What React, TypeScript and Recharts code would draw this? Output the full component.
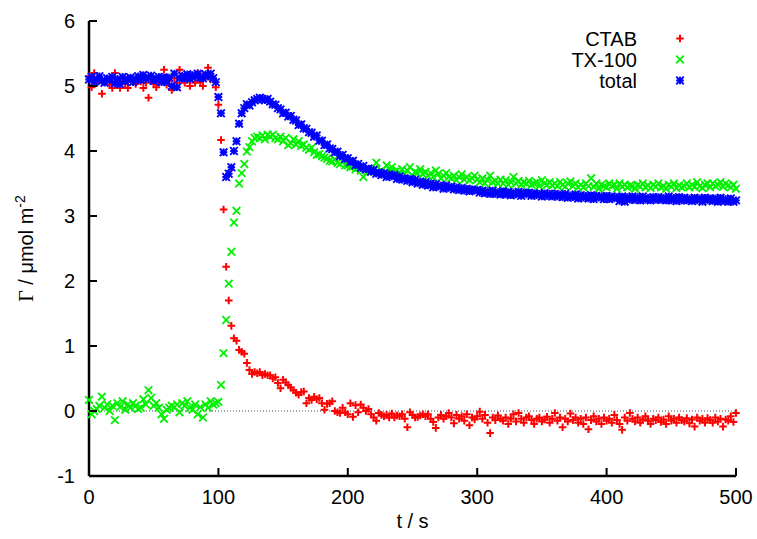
import React from 'react';
import { ScatterChart, Scatter, XAxis, YAxis, ReferenceLine, Legend } from 'recharts';

const FONT = '"Liberation Sans", Arial, sans-serif';

// sampling times (s)
const times = [
  0, 2, 4, 6, 8, 10, 12, 14, 16, 18,
  20, 22, 24, 26, 28, 30, 32, 34, 36, 38,
  40, 42, 44, 46, 48, 50, 52, 54, 56, 58,
  60, 62, 64, 66, 68, 70, 72, 74, 76, 78,
  80, 82, 84, 86, 88, 90, 92, 94, 96, 98,
  100, 102, 104, 106, 108, 110, 112, 114, 116, 118,
  120, 122, 124, 126, 128, 130, 132, 134, 136, 138,
  140, 142, 144, 146, 148, 150, 152, 154, 156, 158,
  160, 162, 164, 166, 168, 170, 172, 174, 176, 178,
  180, 182, 184, 186, 188, 190, 192, 194, 196, 198,
  200, 202, 204, 206, 208, 210, 212, 214, 216, 218,
  220, 222, 224, 226, 228, 230, 232, 234, 236, 238,
  240, 242, 244, 246, 248, 250, 252, 254, 256, 258,
  260, 262, 264, 266, 268, 270, 272, 274, 276, 278,
  280, 282, 284, 286, 288, 290, 292, 294, 296, 298,
  300, 302, 304, 306, 308, 310, 312, 314, 316, 318,
  320, 322, 324, 326, 328, 330, 332, 334, 336, 338,
  340, 342, 344, 346, 348, 350, 352, 354, 356, 358,
  360, 362, 364, 366, 368, 370, 372, 374, 376, 378,
  380, 382, 384, 386, 388, 390, 392, 394, 396, 398,
  400, 402, 404, 406, 408, 410, 412, 414, 416, 418,
  420, 422, 424, 426, 428, 430, 432, 434, 436, 438,
  440, 442, 444, 446, 448, 450, 452, 454, 456, 458,
  460, 462, 464, 466, 468, 470, 472, 474, 476, 478,
  480, 482, 484, 486, 488, 490, 492, 494, 496, 498, 500,
];

// CTAB surface excess
const ctab = [
  5.15, 4.98, 5.2, 5.05, 5.08, 4.88, 5.06, 5.1, 5.02, 4.97,
  5.2, 5.05, 4.97, 5.08, 5.04, 4.97, 5.1, 5.06, 5.03, 5.09,
  5.07, 4.97, 5.05, 4.82, 5.1, 5.03, 4.98, 5.06, 5.1, 5.25,
  5.02, 5.08, 4.94, 5.12, 5.05, 5.25, 5.1, 5.05, 5.14, 5.0,
  5.12, 5.05, 5.2, 5.06, 5.0, 5.15, 5.28, 5.1, 5.1, 4.98,
  4.71, 4.17, 3.1, 2.22, 1.7, 1.31, 1.12, 1.08, 0.94, 0.91,
  0.88, 0.74, 0.63, 0.57, 0.6, 0.58, 0.6, 0.55, 0.57, 0.55,
  0.55, 0.5, 0.52, 0.43, 0.35, 0.48, 0.44, 0.4, 0.36, 0.32,
  0.28, 0.25, 0.29, 0.3, 0.12, 0.2, 0.17, 0.22, 0.18, 0.2,
  0.12, 0.02, 0.11, 0.12, 0.15, 0.0, -0.02, -0.03, 0.05, -0.02,
  -0.05, 0.12, -0.09, 0.09, -0.02, 0.1, 0.05, 0.0, 0.03, -0.05,
  -0.1, -0.15, -0.03, -0.06, -0.08, -0.06, -0.1, -0.04, -0.1, -0.07,
  -0.08, -0.05, -0.12, -0.25, -0.02, -0.06, -0.1, -0.09, -0.07, -0.05,
  -0.08, -0.05, -0.12, -0.17, -0.26, -0.1, -0.06, -0.12, -0.08, -0.03,
  -0.1, -0.19, -0.06, -0.12, -0.08, -0.15, -0.05, -0.22, -0.1, -0.13,
  -0.08, -0.01, -0.12, -0.06, -0.18, -0.34, -0.1, -0.14, -0.07, -0.12,
  -0.15, -0.1, -0.2, -0.12, -0.05, -0.16, -0.03, -0.12, -0.18, -0.1,
  -0.08, -0.14, -0.2, -0.12, -0.1, -0.16, -0.13, -0.09, -0.18, -0.12,
  -0.03, -0.15, -0.1, -0.25, -0.12, -0.16, -0.04, -0.14, -0.1, -0.18,
  -0.12, -0.2, -0.1, -0.28, -0.14, -0.08, -0.16, -0.12, -0.2, -0.1,
  -0.15, -0.12, -0.18, -0.06, -0.14, -0.2, -0.29, -0.1, -0.15, -0.03,
  -0.12, -0.16, -0.1, -0.18, -0.13, -0.08, -0.15, -0.2, -0.12, -0.14,
  -0.1, -0.17, -0.13, -0.2, -0.08, -0.15, -0.12, -0.18, -0.1, -0.14,
  -0.16, -0.11, -0.19, -0.13, -0.24, -0.1, -0.15, -0.12, -0.18, -0.11,
  -0.14, -0.18, -0.1, -0.16, -0.12, -0.24, -0.13, -0.15, -0.08, -0.17, -0.03,
];

// TX-100 surface excess
const tx100 = [
  0.17, -0.05, 0.0, 0.03, 0.08, 0.22, 0.05, 0.1, 0.0, 0.08,
  -0.14, 0.12, 0.06, 0.15, 0.02, 0.1, 0.05, 0.12, 0.08, 0.03,
  0.05, 0.18, 0.1, 0.32, 0.2, 0.08, 0.12, 0.05, -0.05, -0.12,
  0.02, 0.05, 0.08, 0.06, 0.1, -0.02, 0.12, 0.08, 0.15, 0.05,
  0.02, 0.1, -0.05, 0.06, -0.1, 0.1, 0.05, 0.15, 0.1, 0.12,
  0.14, 0.4, 0.89, 1.4, 1.96, 2.45, 2.9, 3.08, 3.5, 3.66,
  3.8, 3.99, 4.06, 4.15, 4.2, 4.22, 4.2, 4.24, 4.18, 4.25,
  4.22, 4.25, 4.2, 4.18, 4.22, 4.15, 4.2, 4.09, 4.12, 4.18,
  4.1, 4.15, 4.08, 4.1, 4.05, 4.02, 4.05, 3.98, 3.94, 3.95,
  3.92, 3.9, 3.88, 3.85, 3.84, 3.87, 3.82, 3.8, 3.84, 3.78,
  3.78, 3.75, 3.76, 3.72, 3.74, 3.7, 3.6, 3.72, 3.68, 3.7,
  3.72, 3.82, 3.68, 3.7, 3.66, 3.78, 3.72, 3.75, 3.68, 3.7,
  3.66, 3.72, 3.64, 3.7, 3.75, 3.62, 3.68, 3.66, 3.72, 3.64,
  3.68, 3.62, 3.66, 3.6, 3.7, 3.65, 3.58, 3.62, 3.66, 3.6,
  3.58, 3.62, 3.55, 3.6, 3.64, 3.56, 3.6, 3.55, 3.58, 3.62,
  3.56, 3.52, 3.58, 3.5, 3.55, 3.62, 3.52, 3.54, 3.5, 3.56,
  3.5, 3.55, 3.48, 3.52, 3.6, 3.5, 3.54, 3.48, 3.52, 3.5,
  3.54, 3.48, 3.5, 3.52, 3.46, 3.55, 3.5, 3.48, 3.52, 3.47,
  3.5, 3.46, 3.52, 3.48, 3.45, 3.5, 3.53, 3.46, 3.5, 3.44,
  3.48, 3.44, 3.5, 3.46, 3.58, 3.45, 3.5, 3.42, 3.48, 3.46,
  3.44, 3.5, 3.46, 3.48, 3.42, 3.5, 3.45, 3.48, 3.44, 3.47,
  3.46, 3.42, 3.48, 3.45, 3.5, 3.44, 3.47, 3.43, 3.48, 3.45,
  3.5, 3.44, 3.46, 3.42, 3.48, 3.45, 3.5, 3.43, 3.47, 3.44,
  3.46, 3.5, 3.44, 3.48, 3.45, 3.52, 3.46, 3.43, 3.48, 3.5,
  3.44, 3.5, 3.46, 3.48, 3.52, 3.45, 3.5, 3.47, 3.44, 3.48, 3.42,
];

// total
const total = [
  5.1, 5.14, 5.06, 5.1, 5.15, 5.08, 5.05, 5.12, 5.09, 5.14,
  5.04, 5.11, 5.03, 5.14, 5.07, 5.11, 5.13, 5.06, 5.1, 5.15,
  5.09, 5.17, 5.11, 5.13, 5.16, 5.08, 5.11, 5.14, 5.06, 5.13,
  5.07, 5.13, 5.0, 5.19, 4.98, 5.12, 5.16, 5.12, 5.18, 5.11,
  5.17, 5.14, 5.19, 5.13, 5.12, 5.18, 5.15, 5.19, 5.12, 5.06,
  4.83, 4.58, 3.98, 3.6, 3.65, 3.75, 4.0, 4.15, 4.42, 4.58,
  4.66, 4.72, 4.7, 4.75, 4.78, 4.8, 4.82, 4.8, 4.78, 4.8,
  4.76, 4.72, 4.71, 4.66, 4.64, 4.58, 4.59, 4.53, 4.54, 4.48,
  4.47, 4.4, 4.41, 4.35, 4.34, 4.29, 4.28, 4.22, 4.24, 4.16,
  4.16, 4.09, 4.1, 4.04, 4.03, 3.98, 3.99, 3.92, 3.94, 3.88,
  3.89, 3.83, 3.85, 3.78, 3.8, 3.74, 3.77, 3.72, 3.73, 3.68,
  3.71, 3.65, 3.67, 3.63, 3.66, 3.6, 3.64, 3.61, 3.63, 3.57,
  3.61, 3.56, 3.58, 3.54, 3.57, 3.52, 3.56, 3.5, 3.53, 3.48,
  3.52, 3.47, 3.5, 3.44, 3.49, 3.45, 3.47, 3.42, 3.47, 3.43,
  3.45, 3.41, 3.44, 3.4, 3.43, 3.39, 3.42, 3.38, 3.41, 3.39,
  3.4, 3.36, 3.39, 3.35, 3.38, 3.34, 3.39, 3.34, 3.37, 3.33,
  3.38, 3.33, 3.37, 3.32, 3.36, 3.33, 3.37, 3.31, 3.36, 3.33,
  3.36, 3.31, 3.35, 3.32, 3.34, 3.3, 3.35, 3.31, 3.34, 3.3,
  3.34, 3.3, 3.33, 3.29, 3.34, 3.28, 3.32, 3.29, 3.33, 3.27,
  3.32, 3.28, 3.31, 3.27, 3.32, 3.26, 3.31, 3.28, 3.3, 3.26,
  3.31, 3.26, 3.3, 3.27, 3.29, 3.23, 3.3, 3.22, 3.29, 3.25,
  3.3, 3.25, 3.29, 3.24, 3.3, 3.25, 3.28, 3.24, 3.29, 3.25,
  3.29, 3.25, 3.28, 3.24, 3.3, 3.24, 3.28, 3.23, 3.29, 3.24,
  3.28, 3.24, 3.27, 3.23, 3.28, 3.24, 3.27, 3.22, 3.28, 3.24,
  3.27, 3.23, 3.27, 3.22, 3.28, 3.23, 3.26, 3.22, 3.27, 3.22, 3.24,
];

const xTicks = [0, 100, 200, 300, 400, 500];
const yTicks = [-1, 0, 1, 2, 3, 4, 5, 6];

const seriesNames = ['CTAB', 'TX-100', 'total'];
const seriesColors = ['#ff0000', '#00f000', '#0000ff'];

const toPoints = (vals: number[]) => times.map((t, i) => ({ t, v: vals[i] }));

const ctabData = toPoints(ctab);
const txData = toPoints(tx100);
const totalData = toPoints(total);

const TICK = 8;

// marker shapes, gnuplot style
const Marker = ({ cx, cy, kind }: any) => {
  const r = 3.8;
  const col = seriesColors[kind];
  if (kind === 0) {
    return <path d={`M${cx - r},${cy}H${cx + r}M${cx},${cy - r}V${cy + r}`} stroke={col} strokeWidth={2} fill="none" />;
  }
  if (kind === 1) {
    return <path d={`M${cx - r},${cy - r}L${cx + r},${cy + r}M${cx - r},${cy + r}L${cx + r},${cy - r}`} stroke={col} strokeWidth={1.8} fill="none" />;
  }
  return (
    <path
      d={`M${cx - r},${cy - r}L${cx + r},${cy + r}M${cx - r},${cy + r}L${cx + r},${cy - r}M${cx - r},${cy}H${cx + r}M${cx},${cy - r}V${cy + r}`}
      stroke={col}
      strokeWidth={1.9}
      fill="none"
    />
  );
};

const LeftTick = ({ x, y, payload }: any) => (
  <g>
    <line x1={x} x2={x + TICK} y1={y} y2={y} stroke="#000" strokeWidth={2} />
    <text x={x - 14} y={y} dy="0.35em" textAnchor="end" fontSize={20} fontFamily={FONT} fill="#000">
      {payload.value}
    </text>
  </g>
);

const RightTick = ({ x, y }: any) => (
  <line x1={x - TICK} x2={x} y1={y} y2={y} stroke="#000" strokeWidth={2} />
);

const BottomTick = ({ x, y, payload }: any) => (
  <g>
    <line x1={x} x2={x} y1={y} y2={y - TICK} stroke="#000" strokeWidth={2} />
    <text x={x} y={y + 28} textAnchor="middle" fontSize={20} fontFamily={FONT} fill="#000">
      {payload.value}
    </text>
  </g>
);

const TopTick = ({ x, y }: any) => (
  <line x1={x} x2={x} y1={y} y2={y + TICK} stroke="#000" strokeWidth={2} />
);

const XTitle = ({ viewBox }: any) => (
  <text x={viewBox.x + viewBox.width / 2} y={528} textAnchor="middle" fontSize={20} fontFamily={FONT} fill="#000">
    t / s
  </text>
);

const YTitle = ({ viewBox }: any) => {
  const cx = 33;
  const cy = viewBox.y + viewBox.height / 2;
  return (
    <text transform={`rotate(-90, ${cx}, ${cy})`} x={cx} y={cy} textAnchor="middle" fontSize={20} fontFamily={FONT} fill="#000">
      <tspan fontFamily='"Liberation Serif", serif'>Γ</tspan> / μmol m<tspan dy={-8} fontSize={14}>-2</tspan>
    </text>
  );
};

const LegendBox = () => (
  <svg width={757} height={100} style={{ display: 'block' }}>
    {seriesNames.map((name, i) => (
      <g key={name}>
        <text x={637} y={38.5 + i * 21} dy="0.35em" textAnchor="end" fontSize={20} fontFamily={FONT} fill="#000">
          {name}
        </text>
        <Marker cx={680} cy={38.5 + i * 21} kind={i} />
      </g>
    ))}
  </svg>
);

export default function App() {
  return (
    <div style={{ position: 'absolute', left: 0, top: 0, width: 757, height: 539, background: '#fff' }}>
      <ScatterChart width={757} height={539} margin={{ top: 21, right: 21, bottom: 0, left: 0 }}>
        <XAxis
          xAxisId={0}
          type="number"
          dataKey="t"
          domain={[0, 500]}
          ticks={xTicks}
          interval={0}
          height={63}
          tickSize={0}
          tickMargin={0}
          tickLine={false}
          axisLine={{ stroke: '#000', strokeWidth: 2.5 }}
          tick={<BottomTick />}
          label={<XTitle />}
        />
        <XAxis
          xAxisId="top"
          orientation="top"
          type="number"
          dataKey="t"
          domain={[0, 500]}
          ticks={xTicks}
          interval={0}
          height={0}
          tickSize={0}
          tickMargin={0}
          tickLine={false}
          axisLine={{ stroke: '#000', strokeWidth: 2.5 }}
          tick={<TopTick />}
        />
        <YAxis
          yAxisId={0}
          type="number"
          dataKey="v"
          domain={[-1, 6]}
          ticks={yTicks}
          interval={0}
          width={89}
          tickSize={0}
          tickMargin={0}
          tickLine={false}
          axisLine={{ stroke: '#000', strokeWidth: 2.5 }}
          tick={<LeftTick />}
          label={<YTitle />}
        />
        <YAxis
          yAxisId="right"
          orientation="right"
          type="number"
          dataKey="v"
          domain={[-1, 6]}
          ticks={yTicks}
          interval={0}
          width={0}
          tickSize={0}
          tickMargin={0}
          tickLine={false}
          axisLine={{ stroke: '#000', strokeWidth: 2.5 }}
          tick={<RightTick />}
        />
        <ReferenceLine y={0} xAxisId={0} yAxisId={0} stroke="#444" strokeWidth={1} strokeDasharray="1 2" />
        <Legend
          layout="vertical"
          align="center"
          verticalAlign="middle"
          wrapperStyle={{ position: 'absolute', left: 0, top: 0, width: 757, height: 100 }}
          content={() => <LegendBox />}
        />
        <Scatter name="CTAB" data={ctabData} xAxisId={0} yAxisId={0} isAnimationActive={false} shape={(p: any) => <Marker cx={p.cx} cy={p.cy} kind={0} />} />
        <Scatter name="TX-100" data={txData} xAxisId={0} yAxisId={0} isAnimationActive={false} shape={(p: any) => <Marker cx={p.cx} cy={p.cy} kind={1} />} />
        <Scatter name="total" data={totalData} xAxisId={0} yAxisId={0} isAnimationActive={false} shape={(p: any) => <Marker cx={p.cx} cy={p.cy} kind={2} />} />
      </ScatterChart>
    </div>
  );
}
